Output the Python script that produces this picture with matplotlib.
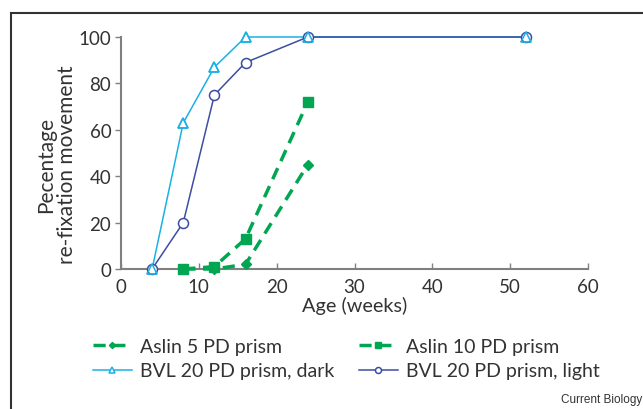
import matplotlib
matplotlib.use("Agg")
import matplotlib.pyplot as plt
from matplotlib.lines import Line2D

plt.rcParams['font.family'] = ['Lato', 'DejaVu Sans']

weeks_bvl = [4, 8, 12, 16, 24, 52]
bvl_dark = [0, 63, 87, 100, 100, 100]
bvl_light = [0, 20, 75, 89, 100, 100]
weeks_aslin = [8, 12, 16, 24]
aslin5 = [0, 0, 2, 45]
aslin10 = [0, 1, 13, 72]

x_ticks = [0, 10, 20, 30, 40, 50, 60]
y_ticks = [0, 20, 40, 60, 80, 100]

green = '#00a651'
light_blue = '#1cb0e6'
dark_blue = '#3b4ea3'
axis_gray = '#808080'
text_col = '#333333'

W, H = 643, 410
fig = plt.figure(figsize=(W/100, H/100), dpi=100)
ax = fig.add_axes([121/W, 1 - 270/H, (588-121)/W, (270-38)/H])

l_a5, = ax.plot(weeks_aslin, aslin5, color=green, lw=2.5, ls=(0, (3.5, 2.2)),
                marker='D', ms=5.2, mfc=green, mec=green, clip_on=False, zorder=3,
                label='Aslin 5 PD prism')
l_a10, = ax.plot(weeks_aslin, aslin10, color=green, lw=2.5, ls=(0, (3.5, 2.2)),
                 marker='s', ms=6.8, mfc=green, mec=green, clip_on=False, zorder=3,
                 label='Aslin 10 PD prism')
l_dark, = ax.plot(weeks_bvl, bvl_dark, color=light_blue, lw=1.1,
                  marker='^', ms=7.5, mfc='white', mec=light_blue, mew=1.1,
                  clip_on=False, zorder=4, label='BVL 20 PD prism, dark')
l_light, = ax.plot(weeks_bvl, bvl_light, color=dark_blue, lw=1.1,
                   marker='o', ms=7.2, mfc='white', mec=dark_blue, mew=1.1,
                   clip_on=False, zorder=4, label='BVL 20 PD prism, light')
ax.plot(weeks_bvl, bvl_dark, ls='none', marker='^', ms=7.5, mfc='none',
        mec=light_blue, mew=1.1, clip_on=False, zorder=5)

ax.set_xlim(0, 60)
ax.set_ylim(0, 100)
ax.set_xticks(x_ticks)
ax.set_yticks(y_ticks)
for s in ['top', 'right']:
    ax.spines[s].set_visible(False)
for s in ['left', 'bottom']:
    ax.spines[s].set_color(axis_gray)
    ax.spines[s].set_linewidth(1.5)
ax.tick_params(axis='x', direction='in', length=4, width=1, color=axis_gray,
               labelsize=13.5, labelcolor=text_col, pad=6.5)
ax.tick_params(axis='y', direction='out', length=4, width=1, color=axis_gray,
               labelsize=13.5, labelcolor=text_col, pad=3)
ax.set_xlabel('Age (weeks)', fontsize=14.3, color=text_col, labelpad=1)

fig.text(56.5/W, 1 - 165/H, 'Pecentage\nre-fixation movement', rotation=90,
         ha='center', va='center', fontsize=15, color=text_col, linespacing=1.1,
         multialignment='center')

common = dict(frameon=False, fontsize=14, markerscale=0.6, handlelength=2.0,
              handletextpad=0.4, labelspacing=0.38, borderpad=0, borderaxespad=0,
              loc='upper left')
leg1 = fig.legend([l_a5, l_dark], [l_a5.get_label(), l_dark.get_label()],
                  bbox_to_anchor=(93/W, 1 - 339/H), **common)
leg2 = fig.legend([l_a10, l_light], [l_a10.get_label(), l_light.get_label()],
                  bbox_to_anchor=(359/W, 1 - 339/H), **common)
for leg in (leg1, leg2):
    for t in leg.get_texts():
        t.set_color(text_col)

fig.text(642/W, 1 - 400/H, 'Current Biology', fontsize=8.5, color=text_col,
         ha='right', va='center', family=['Liberation Sans', 'DejaVu Sans'])

fig.add_artist(Line2D([11/W, 11/W], [0, 1 - 14/H], color='#333333', lw=1.5,
                      transform=fig.transFigure))
fig.add_artist(Line2D([11/W, 1], [1 - 14/H, 1 - 14/H], color='#333333', lw=1.5,
                      transform=fig.transFigure))

fig.savefig('out.png', dpi=100)
